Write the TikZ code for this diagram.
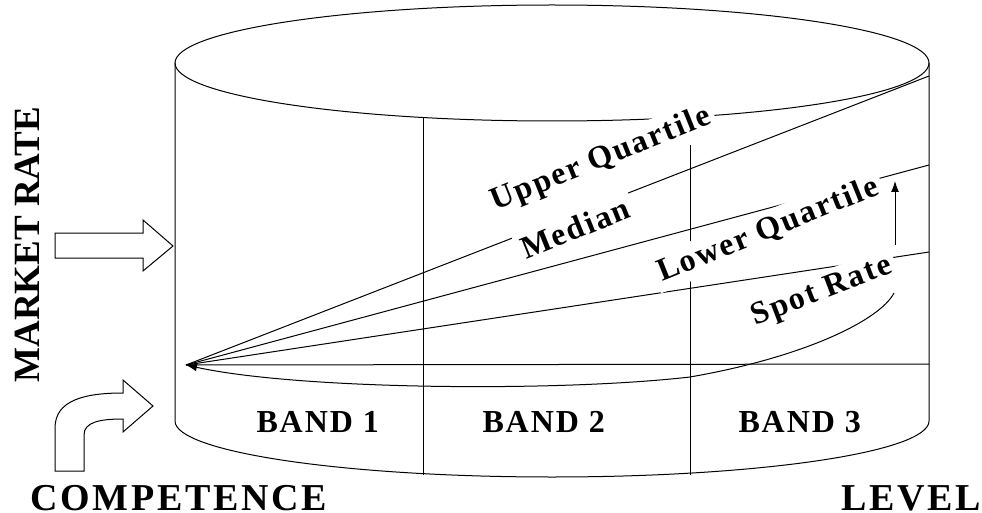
\documentclass[tikz,border=0pt]{standalone}
\usepackage{fontspec}
\setmainfont{Liberation Serif}
\newfontfamily\espaciada[LetterSpace=6]{Liberation Serif}
\newfontfamily\ancha[LetterSpace=7]{Liberation Serif}
\usetikzlibrary{arrows.meta}

\begin{document}
\begin{tikzpicture}[
    x=1pt, y=-1pt,
    line width=1pt,
    tasa/.style={
        fill=white,
        inner sep=5pt,
        font=\espaciada\bfseries\fontsize{32}{34}\selectfont,
        rotate=#1
    },
    tasa/.default=22,
    banda/.style={
        anchor=base west,
        inner sep=0pt,
        font=\espaciada\bfseries\fontsize{32}{34}\selectfont
    },
    eje/.style={
        anchor=base west,
        inner sep=0pt,
        font=\ancha\bfseries\fontsize{38}{40}\selectfont
    },
    flecha/.style={
        -{Latex[length=11pt,width=8pt]},
        line width=1pt
    }
]
    \useasboundingbox (0,0) rectangle (982,513);

    % cilindro
    \draw (552,63) ellipse [x radius=377, y radius=58];
    \draw (175,63) -- (175,421) arc[start angle=180, end angle=0, x radius=377, y radius=56] -- (929,63);
    \draw (423,118) -- (423,475);
    \draw (690,117) -- (690,475);

    % tasas de mercado
    \coordinate (origen) at (186,365);
    \coordinate (uq) at (929,76);
    \coordinate (med) at (929,165);
    \coordinate (lq) at (929,252);
    \coordinate (base) at (929,364);
    \coordinate (spot) at (894,293);
    \coordinate (subida0) at (895,245);
    \coordinate (subida1) at (895,181);

    \draw (origen) -- (uq);
    \draw (origen) -- (med);
    \draw (origen) -- (lq);
    \draw (origen) -- (base);

    \node[tasa] (superior) at (601,160) {Upper Quartile};
    \node[tasa] (mediana) at (575,228) {Median};
    \node[tasa] (inferior) at (768,230) {Lower Quartile};
    \node[tasa=21] (puntual) at (822,292) {Spot Rate};

    \draw[flecha] (spot) .. controls (880,320) and (805,357) .. (690,377)
        .. controls (560,392) and (300,390) .. (origen);
    \draw[flecha] (subida0) -- (subida1);

    % flechas de bloque
    \draw (55,233) -- (143,233) -- (143,220) -- (173,246) -- (143,271) -- (143,258) -- (55,258) -- cycle;
    \draw (55,471) -- (55,428) .. controls (55,400) and (85,393) .. (123,393) -- (123,380) -- (153,406)
        -- (123,432) -- (123,419) .. controls (100,419) and (84,422) .. (84,435) -- (84,471) -- cycle;

    % textos
    \node[banda] (banda1) at (256,432) {BAND 1};
    \node[banda] (banda2) at (482,432) {BAND 2};
    \node[banda] (banda3) at (738,432) {BAND 3};
    \node[eje, rotate=90, font=\bfseries\fontsize{37}{40}\selectfont] (mercado) at (39,383) {MARKET RATE};
    \node[eje] (competencia) at (30,510) {COMPETENCE};
    \node[eje] (nivel) at (841,510) {LEVEL};

\end{tikzpicture}
\end{document}
